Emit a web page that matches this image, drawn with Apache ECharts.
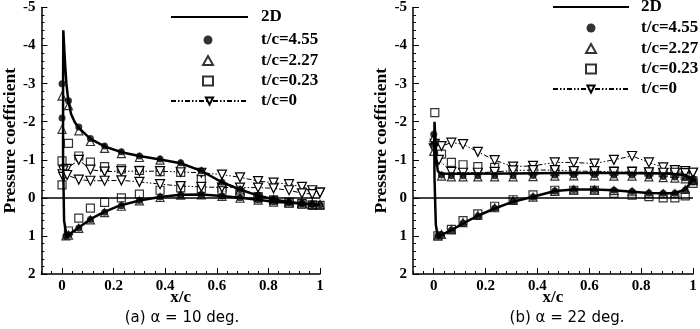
<!DOCTYPE html>
<html><head><meta charset="utf-8">
<script src="https://cdn.jsdelivr.net/npm/echarts@6/dist/echarts.min.js"></script>
<style>html,body{margin:0;padding:0;background:#fff}#c{width:700px;height:329px}</style>
</head><body><div id="c"></div>
<script>
const xTickLabels = [0, 0.2, 0.4, 0.6, 0.8, 1];
const seriesNames = ['2D', 't/c=4.55', 't/c=2.27', 't/c=0.23', 't/c=0'];
const captions = ['(a) \u03b1 = 10 deg.', '(b) \u03b1 = 22 deg.'];
const axisTitles = ['x/c', 'Pressure coefficient'];

// ---------- (a) alpha = 10 deg ----------
const a10_2D = [[1.0,0.18],[0.97,0.17],[0.93,0.15],[0.88,0.13],[0.82,0.1],[0.76,0.05],[0.69,0.0],[0.62,-0.05],[0.54,-0.09],[0.46,-0.08],[0.38,-0.02],[0.3,0.07],[0.22,0.21],[0.16,0.38],[0.11,0.56],[0.065,0.78],[0.03,0.95],[0.018,1.02],[0.008,0.6],[0.004,-1.0],[0.004,-3.0],[0.005,-4.4],[0.008,-4.0],[0.012,-3.5],[0.017,-3.0],[0.024,-2.57],[0.035,-2.2],[0.05,-1.98],[0.065,-1.84],[0.11,-1.55],[0.165,-1.35],[0.23,-1.2],[0.3,-1.1],[0.38,-1.01],[0.46,-0.91],[0.54,-0.71],[0.62,-0.41],[0.69,-0.22],[0.76,-0.06],[0.82,0.04],[0.88,0.11],[0.93,0.15],[0.97,0.17],[1.0,0.18]];
const a10_tc455 = [[0,-3.0],[0,-2.1],[0.025,-2.55],[0.065,-1.86],[0.11,-1.56],[0.165,-1.36],[0.23,-1.21],[0.3,-1.1],[0.38,-1.02],[0.46,-0.92],[0.54,-0.71],[0.62,-0.41],[0.69,-0.22],[0.76,-0.07],[0.82,0.04],[0.88,0.11],[0.93,0.15],[0.97,0.17],[1.0,0.18],[0.015,1.0],[0.025,0.97],[0.065,0.79],[0.11,0.57],[0.165,0.38],[0.23,0.21],[0.3,0.07],[0.38,-0.02],[0.46,-0.08],[0.54,-0.09],[0.62,-0.05],[0.69,0.0],[0.76,0.05],[0.82,0.1],[0.88,0.13],[0.93,0.15],[0.97,0.17]];
const a10_tc227 = [[0,-2.67],[0,-1.8],[0.025,-2.42],[0.065,-1.76],[0.11,-1.48],[0.165,-1.3],[0.23,-1.16],[0.3,-1.06],[0.38,-0.99],[0.46,-0.89],[0.54,-0.69],[0.62,-0.4],[0.69,-0.21],[0.76,-0.07],[0.82,0.04],[0.88,0.11],[0.93,0.14],[0.97,0.16],[1.0,0.17],[0.015,1.0],[0.025,0.98],[0.065,0.8],[0.11,0.58],[0.165,0.39],[0.23,0.22],[0.3,0.08],[0.38,-0.01],[0.46,-0.07],[0.54,-0.08],[0.62,-0.04],[0.69,0.01],[0.76,0.06],[0.82,0.11],[0.88,0.14],[0.93,0.16],[0.97,0.17]];
const a10_tc023 = [[0,-0.97],[0,-0.34],[0.025,-1.43],[0.065,-1.1],[0.11,-0.94],[0.165,-0.82],[0.23,-0.76],[0.3,-0.72],[0.38,-0.69],[0.46,-0.67],[0.54,-0.5],[0.62,-0.27],[0.69,-0.14],[0.76,-0.03],[0.82,0.05],[0.88,0.11],[0.93,0.15],[0.97,0.19],[1.0,0.2],[0.025,0.87],[0.065,0.53],[0.11,0.27],[0.165,0.12],[0.23,0.0],[0.3,-0.1],[0.38,-0.2],[0.46,-0.26],[0.54,-0.24],[0.62,-0.2],[0.69,-0.1],[0.76,0.0],[0.82,0.07],[0.88,0.13],[0.93,0.16],[0.97,0.19]];
const a10_tc0 = [[1.0,-0.14],[0.97,-0.2],[0.93,-0.29],[0.88,-0.36],[0.82,-0.4],[0.76,-0.44],[0.69,-0.54],[0.62,-0.61],[0.54,-0.66],[0.46,-0.68],[0.38,-0.7],[0.3,-0.7],[0.23,-0.7],[0.165,-0.69],[0.11,-0.74],[0.065,-1.0],[0.018,-0.76],[0.005,-0.72],[0.002,-0.62],[0.005,-0.55],[0.02,-0.6],[0.065,-0.48],[0.11,-0.45],[0.165,-0.45],[0.23,-0.46],[0.3,-0.42],[0.38,-0.36],[0.46,-0.31],[0.54,-0.29],[0.62,-0.27],[0.69,-0.27],[0.76,-0.27],[0.82,-0.25],[0.88,-0.2],[0.93,-0.12],[0.97,-0.1],[1.0,-0.14]];

// ---------- (b) alpha = 22 deg ----------
const a22_2D = [[1.0,-0.48],[0.97,-0.22],[0.93,-0.12],[0.885,-0.12],[0.83,-0.13],[0.765,-0.16],[0.695,-0.2],[0.62,-0.22],[0.54,-0.22],[0.467,-0.18],[0.383,-0.03],[0.306,0.1],[0.235,0.28],[0.17,0.47],[0.113,0.67],[0.068,0.85],[0.03,0.97],[0.016,1.03],[0.008,0.7],[0.003,-0.5],[0.002,-1.5],[0.003,-2.0],[0.006,-1.6],[0.01,-1.0],[0.016,-0.7],[0.025,-0.64],[0.1,-0.63],[0.3,-0.64],[0.5,-0.65],[0.7,-0.65],[0.9,-0.64],[0.97,-0.6],[1.0,-0.48]];
const a22_tc455 = [[0,-1.67],[0,-1.4],[0.03,-0.6],[0.068,-0.58],[0.113,-0.58],[0.17,-0.58],[0.235,-0.58],[0.306,-0.58],[0.383,-0.59],[0.467,-0.6],[0.54,-0.61],[0.62,-0.61],[0.695,-0.6],[0.765,-0.6],[0.83,-0.58],[0.885,-0.56],[0.93,-0.55],[0.97,-0.53],[1.0,-0.5],[0.016,1.0],[0.03,0.97],[0.068,0.85],[0.113,0.67],[0.17,0.48],[0.235,0.27],[0.306,0.08],[0.383,-0.02],[0.467,-0.18],[0.54,-0.22],[0.62,-0.22],[0.695,-0.2],[0.765,-0.17],[0.83,-0.13],[0.885,-0.12],[0.93,-0.12],[0.97,-0.2],[1.0,-0.42]];
const a22_tc227 = [[0,-1.58],[0,-1.22],[0.03,-0.57],[0.068,-0.55],[0.113,-0.55],[0.17,-0.55],[0.235,-0.55],[0.306,-0.55],[0.383,-0.56],[0.467,-0.57],[0.54,-0.58],[0.62,-0.58],[0.695,-0.57],[0.765,-0.57],[0.83,-0.55],[0.885,-0.53],[0.93,-0.52],[0.97,-0.5],[1.0,-0.48],[0.016,1.0],[0.03,0.96],[0.068,0.84],[0.113,0.65],[0.17,0.46],[0.235,0.26],[0.306,0.07],[0.383,-0.02],[0.467,-0.17],[0.54,-0.21],[0.62,-0.21],[0.695,-0.19],[0.765,-0.16],[0.83,-0.12],[0.885,-0.11],[0.93,-0.11],[0.97,-0.22],[1.0,-0.45]];
const a22_tc023 = [[0.004,-2.24],[0.03,-1.15],[0.068,-0.93],[0.113,-0.87],[0.17,-0.82],[0.235,-0.8],[0.306,-0.74],[0.383,-0.71],[0.467,-0.69],[0.54,-0.7],[0.62,-0.7],[0.695,-0.7],[0.765,-0.7],[0.83,-0.68],[0.885,-0.66],[0.93,-0.64],[0.97,-0.58],[1.0,-0.45],[0.016,1.0],[0.068,0.83],[0.113,0.6],[0.17,0.42],[0.235,0.22],[0.306,0.05],[0.383,-0.08],[0.467,-0.2],[0.54,-0.2],[0.62,-0.2],[0.695,-0.12],[0.765,-0.07],[0.83,-0.03],[0.885,0.0],[0.93,0.0],[0.97,-0.05],[1.0,-0.38]];
const a22_tc0 = [[1.0,-0.66],[0.97,-0.7],[0.93,-0.73],[0.885,-0.8],[0.83,-0.93],[0.765,-1.1],[0.695,-1.0],[0.62,-0.9],[0.54,-0.93],[0.467,-0.93],[0.383,-0.84],[0.306,-0.82],[0.235,-0.99],[0.17,-1.21],[0.113,-1.41],[0.068,-1.45],[0.03,-1.36],[0.004,-1.42],[0,-1.3],[0.02,-1.0],[0.068,-0.68],[0.113,-0.66],[0.17,-0.66],[0.235,-0.68],[0.306,-0.72],[0.383,-0.73],[0.467,-0.73],[0.54,-0.7],[0.62,-0.7],[0.695,-0.68],[0.765,-0.68],[0.83,-0.67],[0.885,-0.66],[0.93,-0.66],[0.97,-0.65],[1.0,-0.66]];

const panels = [
  {d2D: a10_2D, c: a10_tc455, t: a10_tc227, s: a10_tc023, z: a10_tc0},
  {d2D: a22_2D, c: a22_tc455, t: a22_tc227, s: a22_tc023, z: a22_tc0}
];

const SERIF = 'Liberation Serif';
const downTri = 'path://M0,0L10,0L5,9Z';
const hollow = {color: '#fff', borderColor: '#000', borderWidth: 1.2};
const gridDefs = [
  {left: 36, top: 7, width: 284, height: 267},
  {left: 413, top: 7, width: 280, height: 267}
];

function xMain(g) {
  return {
    type: 'value', gridIndex: g, min: -0.08, max: 1, position: 'bottom',
    name: axisTitles[0], nameLocation: 'middle', nameGap: 15, nameMoveOverlap: false,
    nameTextStyle: {fontFamily: SERIF, fontWeight: 'bold', fontSize: 17, color: '#000'},
    axisLine: {onZero: false, lineStyle: {color: '#000', width: 1.5}},
    axisTick: {customValues: xTickLabels, inside: true, length: 6, lineStyle: {color: '#000', width: 1}},
    axisLabel: {customValues: xTickLabels, formatter: v => String(v), margin: 5,
      fontFamily: SERIF, fontWeight: 'bold', fontSize: 15, color: '#000'},
    splitLine: {show: false}
  };
}
function xMinor(g) {
  return {
    type: 'value', gridIndex: g, min: -0.08, max: 1, interval: 0.04, position: 'bottom',
    axisLine: {show: false, onZero: false},
    axisTick: {inside: true, length: 3, lineStyle: {color: '#000', width: 1}},
    axisLabel: {show: false}, splitLine: {show: false}
  };
}
function yAx(g) {
  return {
    type: 'value', gridIndex: g, inverse: true, min: -5, max: 2, interval: 1,
    name: axisTitles[1], nameLocation: 'middle', nameGap: 18, nameRotate: 90,
    nameTextStyle: {fontFamily: SERIF, fontWeight: 'bold', fontSize: 17.5, color: '#000'},
    axisLine: {onZero: false, lineStyle: {color: '#000', width: 1.5}},
    axisTick: {inside: true, length: 6, lineStyle: {color: '#000', width: 1}},
    minorTick: {show: true, splitNumber: 5, length: 3, lineStyle: {color: '#000', width: 1}},
    axisLabel: {margin: 6, fontFamily: SERIF, fontWeight: 'bold', fontSize: 15, color: '#000'},
    splitLine: {show: false}, minorSplitLine: {show: false}
  };
}

const series = [];
panels.forEach((p, g) => {
  const ax = {xAxisIndex: 2 * g, yAxisIndex: g};
  series.push(Object.assign({type: 'scatter', name: seriesNames[3], data: p.s, symbol: 'rect', symbolSize: 8, symbolKeepAspect: true, itemStyle: hollow, z: 2}, ax));
  series.push(Object.assign({type: 'line', name: seriesNames[4], data: p.z, symbol: downTri, symbolSize: 9, showSymbol: true, showAllSymbol: true,
    itemStyle: hollow, lineStyle: {color: '#000', width: 1, type: [5, 2, 1.5, 2, 1.5, 2]}, z: 3}, ax));
  series.push(Object.assign({type: 'scatter', name: seriesNames[2], data: p.t, symbol: 'triangle', symbolSize: 8, symbolKeepAspect: true, itemStyle: hollow, z: 4}, ax));
  series.push(Object.assign({type: 'scatter', name: seriesNames[1], data: p.c, symbol: 'circle', symbolSize: 7, itemStyle: {color: '#000'}, z: 5}, ax));
  series.push(Object.assign({type: 'line', name: seriesNames[0], data: p.d2D, symbol: 'none', itemStyle: {color: '#000', opacity: 0},
    lineStyle: {color: '#000', width: 2.5}, z: 6,
    markLine: {silent: true, symbol: 'none', label: {show: false}, animation: false,
      lineStyle: {color: '#000', width: 1.5, type: 'solid'}, data: [{yAxis: 0}]}}, ax));
});

function legendAt(left, top, names, itemWidth, itemHeight, gap, textPad) {
  return {
    left: left, top: top, orient: 'vertical', padding: 0, itemGap: gap,
    itemWidth: itemWidth, itemHeight: itemHeight, selectedMode: false, data: names,
    textStyle: {fontFamily: SERIF, fontWeight: 'bold', fontSize: 17, lineHeight: 20, color: '#000', padding: [0, 0, 0, textPad]}
  };
}
const lineNames = [seriesNames[0]];
const markNames = [seriesNames[1], seriesNames[2], seriesNames[3]];
const dashNames = [seriesNames[4]];

const option = {
  animation: false,
  backgroundColor: '#fff',
  grid: gridDefs,
  xAxis: [xMain(0), xMinor(0), xMain(1), xMinor(1)],
  yAxis: [yAx(0), yAx(1)],
  legend: [
    legendAt(170, 7, lineNames, 77, 9, 0, 8),
    legendAt(202, 30, markNames, 10, 9, 0.5, 43),
    legendAt(170, 91, dashNames, 77, 9, 0, 8),
    legendAt(552, -3, lineNames, 76, 9, 0, 7),
    legendAt(585, 18, markNames, 10, 9, 0.5, 40),
    legendAt(552, 79, dashNames, 76, 9, 0, 7)
  ],
  graphic: [
    {type: 'text', x: 182, y: 318, style: {text: captions[0], font: '15px "DejaVu Sans"', fill: '#000', align: 'center', verticalAlign: 'middle', textAlign: 'center', textVerticalAlign: 'middle'}},
    {type: 'text', x: 567, y: 318, style: {text: captions[1], font: '15px "DejaVu Sans"', fill: '#000', align: 'center', verticalAlign: 'middle', textAlign: 'center', textVerticalAlign: 'middle'}}
  ],
  series: series
};
const chart = echarts.init(document.getElementById('c'), null, {renderer: 'canvas'});
chart.setOption(option);
</script></body></html>
